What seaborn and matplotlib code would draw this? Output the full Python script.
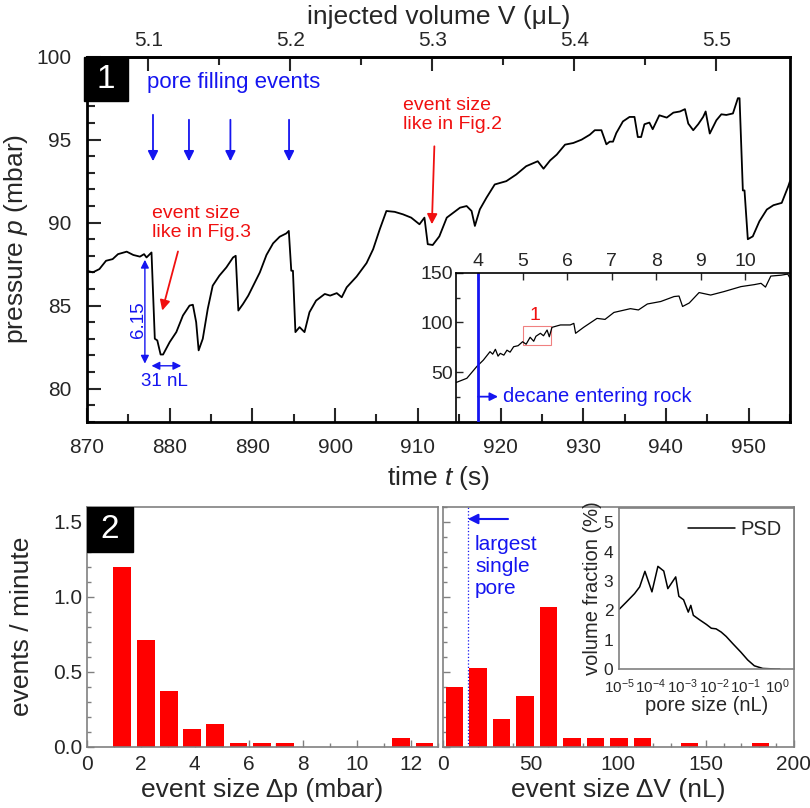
import numpy as np
import matplotlib
matplotlib.use('Agg')
import matplotlib.pyplot as plt
from matplotlib.patches import Rectangle
from matplotlib.ticker import MultipleLocator, LogLocator, NullFormatter, FixedLocator
import seaborn as sns

sns.set_style('white')
plt.rcParams['font.family'] = ['Liberation Sans', 'DejaVu Sans']
plt.rcParams['mathtext.fontset'] = 'custom'
plt.rcParams['mathtext.rm'] = 'Liberation Sans'
plt.rcParams['mathtext.it'] = 'Liberation Sans:italic'

# ---- data ----
# panel 1: pressure trace, time (s) vs pressure (mbar)
t_main = [870.0, 870.7, 871.5, 872.3, 873.1, 873.75, 874.8, 875.6, 876.4, 876.9, 877.2, 877.8,
          878.2, 878.5, 878.9, 879.2, 880.0, 880.8, 881.6, 882.4, 882.8, 883.2, 883.5, 884.0,
          884.6, 885.2, 886.0, 886.85, 887.66, 887.98, 888.3, 888.87, 889.5, 890.1, 890.9, 891.7,
          892.5, 893.3, 894.1, 894.4, 894.7, 894.9, 895.2, 895.7, 896.3, 896.9, 897.7, 898.75,
          899.4, 900.2, 900.8, 901.4, 902.6, 903.8, 904.6, 905.4, 906.2, 907.2, 908.2, 909.2,
          910.2, 910.8, 911.2, 911.8, 912.6, 913.5, 915.1, 915.9, 916.5, 916.9, 917.5, 918.3,
          919.3, 920.7, 921.9, 923.1, 924.5, 925.2, 926.0, 926.8, 927.8, 928.8, 929.8, 930.8,
          931.4, 932.2, 932.8, 933.2, 933.6, 934.0, 934.8, 935.6, 936.2, 936.6, 937.0, 937.4,
          938.0, 938.4, 939.2, 940.1, 940.9, 941.7, 942.3, 942.7, 943.3, 943.9, 944.5, 944.8,
          945.3, 946.1, 946.7, 947.3, 948.1, 948.7, 948.9, 949.3, 949.5, 949.9, 950.5, 951.3,
          952.2, 953.0, 954.0, 954.8, 955.0]
p_main = [87.1, 87.0, 87.2, 87.7, 87.8, 88.1, 88.25, 88.05, 87.95, 88.1, 87.9, 88.2,
          83.0, 82.9, 82.05, 82.05, 82.8, 83.4, 84.4, 85.0, 85.05, 84.0, 82.3, 83.0,
          84.8, 86.2, 86.8, 87.3, 87.9, 88.0, 84.7, 85.1, 85.6, 86.2, 87.0, 88.05,
          88.75, 89.15, 89.35, 89.5, 87.1, 87.1, 83.4, 83.7, 83.4, 84.6, 85.3, 85.7,
          85.6, 85.75, 85.5, 86.1, 86.75, 87.56, 88.4, 89.6, 90.7, 90.65, 90.5, 90.3,
          89.9, 90.3, 88.7, 88.65, 89.17, 90.3, 90.9, 91.0, 90.7, 89.8, 90.8, 91.5,
          92.3, 92.5, 92.9, 93.4, 93.7, 93.25, 93.75, 94.1, 94.7, 94.8, 95.0, 95.3,
          95.57, 95.57, 94.72, 94.88, 94.88, 95.4, 96.1, 96.37, 96.37, 95.16, 95.16, 95.93,
          96.03, 95.63, 96.47, 96.33, 96.63, 96.7, 96.84, 95.97, 95.57, 95.93, 96.37, 96.7,
          95.37, 96.17, 96.53, 96.49, 96.58, 97.5, 97.5, 91.94, 91.94, 89.0, 89.17, 90.08,
          90.79, 91.05, 91.19, 92.2, 92.5]

# inset of panel 1: whole run
t_long = [3.5, 3.75, 3.97, 4.12, 4.27, 4.33, 4.39, 4.45, 4.5, 4.58, 4.65, 4.72, 4.8, 4.9,
          5.0, 5.08, 5.17, 5.25, 5.3, 5.4, 5.47, 5.55, 5.6, 5.66, 5.85, 6.07, 6.15, 6.19,
          6.37, 6.67, 6.85, 7.05, 7.42, 7.6, 7.8, 8.1, 8.4, 8.51, 8.59, 8.74, 8.96, 9.22,
          9.52, 9.9, 10.2, 10.35, 10.45, 10.57, 10.8, 10.95, 11.0]
p_long = [39.3, 43.7, 55.4, 62.0, 70.5, 68.0, 72.9, 66.0, 68.8, 67.0, 72.0, 70.0, 75.5, 76.5,
          80.5, 78.0, 85.0, 81.0, 86.0, 89.0, 86.5, 92.3, 85.5, 95.0, 97.4, 97.4, 99.0, 89.0,
          95.0, 104.0, 103.0, 110.0, 113.8, 112.5, 118.5, 121.0, 126.0, 126.5, 116.0, 119.5,
          130.0, 127.5, 131.0, 136.0, 138.0, 139.3, 135.5, 146.6, 147.5, 148.6, 144.5]

event_times = [877.98, 882.33, 887.34, 894.43]

# panel 2: event size histograms
dp_size = [1.32, 2.18, 3.04, 3.90, 4.76, 5.62, 6.48, 7.34, 11.64, 12.50]
dp_rate = [1.20, 0.71, 0.37, 0.12, 0.15, 0.027, 0.027, 0.027, 0.058, 0.027]
dv_size = [6.9, 20.2, 33.5, 46.9, 60.2, 73.6, 87.0, 100.4, 113.7, 140.6, 180.8]
dv_rate = [0.40, 0.527, 0.184, 0.34, 0.933, 0.06, 0.06, 0.06, 0.06, 0.027, 0.027]

# pore size distribution
psd_size = [1.0e-5, 1.7e-5, 3.1e-5, 4.5e-5, 6.6e-5, 1.1e-4, 1.7e-4, 2.6e-4, 3.5e-4, 6.2e-4,
            7.8e-4, 1.1e-3, 1.55e-3, 1.86e-3, 2.24e-3, 3.5e-3, 5.8e-3, 8.3e-3, 1.17e-2,
            1.7e-2, 2.45e-2, 4.0e-2, 7.2e-2, 1.17e-1, 1.9e-1, 3.5e-1, 9.3e-1, 1.2]
psd_frac = [2.03, 2.28, 2.57, 2.80, 3.33, 2.63, 3.50, 3.34, 2.74, 3.14,
            2.48, 2.36, 1.94, 2.17, 1.83, 1.68, 1.52, 1.39, 1.37,
            1.26, 1.11, 0.86, 0.57, 0.31, 0.11, 0.02, 0.0, 0.0]

BLUE = '#1515f0'
RED = '#f01010'
GRAY = '#808080'
HEAD = '-|>,head_length=0.5,head_width=0.25'
HEAD2 = '<|-|>,head_length=0.4,head_width=0.2'

fig = plt.figure(figsize=(8.1, 8.08), dpi=100)

# ---------------- panel 1 ----------------
ax1 = fig.add_axes([0.1074, 0.4781, 0.8679, 0.4517])
sns.lineplot(x=t_main, y=p_main, ax=ax1, color='black', lw=1.3, sort=False, estimator=None)
ax1.set_xlim(870, 955)
ax1.set_ylim(78, 100)
ax1.xaxis.set_major_locator(MultipleLocator(10))
ax1.xaxis.set_minor_locator(MultipleLocator(5))
ax1.yaxis.set_major_locator(MultipleLocator(5))
ax1.yaxis.set_minor_locator(MultipleLocator(1))
ax1.tick_params(which='both', direction='in', width=1.5, labelsize=15,
                top=False, right=False, bottom=True, left=True)
ax1.tick_params(axis='x', pad=12)
ax1.tick_params(axis='y', pad=11)
ax1.tick_params(which='major', length=10)
ax1.tick_params(which='minor', length=6)
for s in ax1.spines.values():
    s.set_linewidth(2)
    s.set_color('black')
ax1.set_xlabel('time $t$ (s)', fontsize=19, labelpad=5)
ax1.set_ylabel('pressure $p$ (mbar)', fontsize=19, labelpad=5)


def t2v(t):
    return 5.1 + (np.asarray(t) - 877.4) / 171.7


def v2t(v):
    return 877.4 + (np.asarray(v) - 5.1) * 171.7


sec = ax1.secondary_xaxis('top', functions=(t2v, v2t))
sec.xaxis.set_major_locator(FixedLocator([5.1, 5.2, 5.3, 5.4, 5.5]))
sec.xaxis.set_minor_locator(FixedLocator([5.15, 5.25, 5.35, 5.45]))
sec.tick_params(which='both', direction='in', width=1.5, labelsize=15, pad=5)
sec.tick_params(which='major', length=10)
sec.tick_params(which='minor', length=6)
sec.spines['top'].set_linewidth(2)
sec.set_xlabel('injected volume V (\u03bcL)', fontsize=19, labelpad=5)

ax1.add_patch(Rectangle((-0.004, 0.8775), 0.0625, 0.1225, transform=ax1.transAxes,
                        color='black', clip_on=False, zorder=6))
ax1.text(0.0272, 0.9387, '1', transform=ax1.transAxes, color='white', fontsize=24,
         ha='center', va='center', zorder=7)

ax1.text(877.3, 98.45, 'pore filling events', color=BLUE, fontsize=16, va='center')
for i, t in enumerate(event_times):
    start = 96.5 if i == 0 else 96.2
    ax1.annotate('', xy=(t, 93.7), xytext=(t, start),
                 arrowprops=dict(arrowstyle=HEAD, color=BLUE, lw=1.3, mutation_scale=12,
                                 shrinkA=0, shrinkB=0))

ax1.text(877.9, 89.97, 'event size\nlike in Fig.3', color=RED, fontsize=14, va='center',
         linespacing=1.15)
ax1.annotate('', xy=(879.1, 84.7), xytext=(881.0, 88.26),
             arrowprops=dict(arrowstyle=HEAD, color=RED, lw=1.3, mutation_scale=12,
                             shrinkA=0, shrinkB=0))
ax1.text(908.2, 96.5, 'event size\nlike in Fig.2', color=RED, fontsize=14, va='center',
         linespacing=1.15)
ax1.annotate('', xy=(911.7, 89.9), xytext=(912.0, 94.6),
             arrowprops=dict(arrowstyle=HEAD, color=RED, lw=1.3, mutation_scale=12,
                             shrinkA=0, shrinkB=0))

ax1.annotate('', xy=(877.0, 81.5), xytext=(877.0, 87.76),
             arrowprops=dict(arrowstyle=HEAD2, color=BLUE, lw=1.0, mutation_scale=12,
                             shrinkA=0, shrinkB=0))
ax1.text(876.2, 84.13, '6.15', color=BLUE, fontsize=13.5, rotation=90, ha='center', va='center')
ax1.annotate('', xy=(881.4, 81.37), xytext=(877.8, 81.37),
             arrowprops=dict(arrowstyle=HEAD2, color=BLUE, lw=1.0, mutation_scale=12,
                             shrinkA=0, shrinkB=0))
ax1.text(879.4, 80.45, '31 nL', color=BLUE, fontsize=13.5, ha='center', va='center')

# inset: whole run
axi = fig.add_axes([0.5626, 0.4781, 0.4127, 0.1844])
axi.patch.set_alpha(0)
sns.lineplot(x=t_long, y=p_long, ax=axi, color='black', lw=0.9, sort=False, estimator=None)
axi.set_xlim(3.5, 11.0)
axi.set_ylim(0, 150)
axi.xaxis.tick_top()
axi.xaxis.set_major_locator(FixedLocator([4, 5, 6, 7, 8, 9, 10]))
axi.yaxis.set_major_locator(FixedLocator([50, 100, 150]))
axi.yaxis.set_minor_locator(FixedLocator([25, 75, 125]))
axi.tick_params(which='both', direction='in', labelsize=14, pad=2, width=1,
                top=True, bottom=False, left=True, right=False)
axi.tick_params(which='major', length=5)
axi.tick_params(which='minor', length=3)
axi.spines['bottom'].set_visible(False)
axi.spines['right'].set_visible(False)
for s in ['top', 'left']:
    axi.spines[s].set_color('black')
    axi.spines[s].set_linewidth(1.2)
axi.set_xlabel('')
axi.set_ylabel('')
axi.axvline(4.0, color=BLUE, lw=2)
axi.add_patch(Rectangle((5.0, 77.0), 0.64, 19.4, fill=False, ec='#f08080', lw=0.8))
axi.text(5.27, 107.4, '1', color=RED, fontsize=14, ha='center', va='center')
axi.annotate('', xy=(4.45, 25.2), xytext=(4.0, 25.2),
             arrowprops=dict(arrowstyle='-|>,head_length=0.4,head_width=0.2',
                             color=BLUE, lw=1.3, mutation_scale=12, shrinkA=0, shrinkB=0))
axi.text(4.57, 25.2, 'decane entering rock', color=BLUE, fontsize=14.5, va='center')

# ---------------- panel 2 ----------------
ax2 = fig.add_axes([0.1070, 0.0759, 0.4337, 0.2970])
sns.barplot(x=dp_size, y=dp_rate, native_scale=True, width=0.77, color='#ff0000',
            saturation=1, errorbar=None, ax=ax2, linewidth=0, orient='v')
ax2.set_xlim(0, 13)
ax2.set_ylim(0, 1.6)
ax2.xaxis.set_major_locator(MultipleLocator(2))
ax2.xaxis.set_minor_locator(MultipleLocator(1))
ax2.yaxis.set_major_locator(MultipleLocator(0.5))
ax2.yaxis.set_minor_locator(MultipleLocator(0.1))
ax2.yaxis.set_major_formatter(matplotlib.ticker.FormatStrFormatter('%.1f'))
ax2.set_xlabel('event size \u0394p (mbar)', fontsize=19, labelpad=3)
ax2.set_ylabel('events / minute', fontsize=19, labelpad=14)
ax2.add_patch(Rectangle((0, 0.81), 0.131, 0.19, transform=ax2.transAxes,
                        color='black', zorder=6))
ax2.text(0.0655, 0.905, '2', transform=ax2.transAxes, color='white', fontsize=24,
         ha='center', va='center', zorder=7)

ax3 = fig.add_axes([0.5465, 0.0759, 0.4337, 0.2970])
sns.barplot(x=dv_size, y=dv_rate, native_scale=True, width=0.745, color='#ff0000',
            saturation=1, errorbar=None, ax=ax3, linewidth=0, orient='v')
ax3.set_xlim(0, 200)
ax3.set_ylim(0, 1.6)
ax3.xaxis.set_major_locator(MultipleLocator(50))
ax3.xaxis.set_minor_locator(MultipleLocator(10))
ax3.yaxis.set_major_locator(MultipleLocator(0.5))
ax3.yaxis.set_minor_locator(MultipleLocator(0.1))
ax3.yaxis.set_major_formatter(NullFormatter())
ax3.set_xlabel('event size \u0394V (nL)', fontsize=19, labelpad=3)
ax3.set_ylabel('')
ax3.axvline(14.3, color=BLUE, ls=':', lw=0.9)
ax3.annotate('', xy=(14.3, 1.518), xytext=(37.2, 1.518),
             arrowprops=dict(arrowstyle=HEAD, color=BLUE, lw=1.5, mutation_scale=12,
                             shrinkA=0, shrinkB=0))
ax3.text(18.4, 1.2, 'largest\nsingle\npore', color=BLUE, fontsize=15, va='center',
         linespacing=1.2)

for ax in (ax2, ax3):
    ax.tick_params(which='both', direction='in', color=GRAY, labelsize=15, width=1,
                   top=False, right=False, bottom=True, left=True)
    ax.tick_params(axis='x', pad=6)
    ax.tick_params(axis='y', pad=3)
    ax.tick_params(which='major', length=5)
    ax.tick_params(which='minor', length=3)
    for s in ax.spines.values():
        s.set_color(GRAY)
        s.set_linewidth(1.2)

# inset: pore size distribution
ax4 = fig.add_axes([0.7642, 0.1720, 0.2160, 0.1997])
sns.lineplot(x=psd_size, y=psd_frac, ax=ax4, color='black', lw=1.1, label='PSD',
             sort=False, estimator=None)
ax4.set_xscale('log')
ax4.set_xlim(1e-5, 3.4)
ax4.set_ylim(0, 5.5)
ax4.xaxis.set_major_locator(LogLocator(base=10, numticks=10))
ax4.yaxis.set_major_locator(MultipleLocator(1))
ax4.tick_params(which='both', direction='in', color=GRAY, labelsize=12.5, width=0.8,
                top=False, right=False, pad=2)
ax4.tick_params(axis='x', labelsize=11, pad=6)
ax4.tick_params(axis='y', pad=4)
ax4.tick_params(which='major', length=3)
ax4.tick_params(which='minor', length=2)
for s in ax4.spines.values():
    s.set_color(GRAY)
    s.set_linewidth(1.2)
ax4.set_xlabel('pore size (nL)', fontsize=14.5, labelpad=0)
ax4.set_ylabel('volume fraction (%)', fontsize=14.5, labelpad=1)
ax4.legend(loc='upper right', frameon=False, fontsize=14.5, handlelength=2.3,
           borderaxespad=0.2, handletextpad=0.3)

fig.savefig('out.png', dpi=100)
